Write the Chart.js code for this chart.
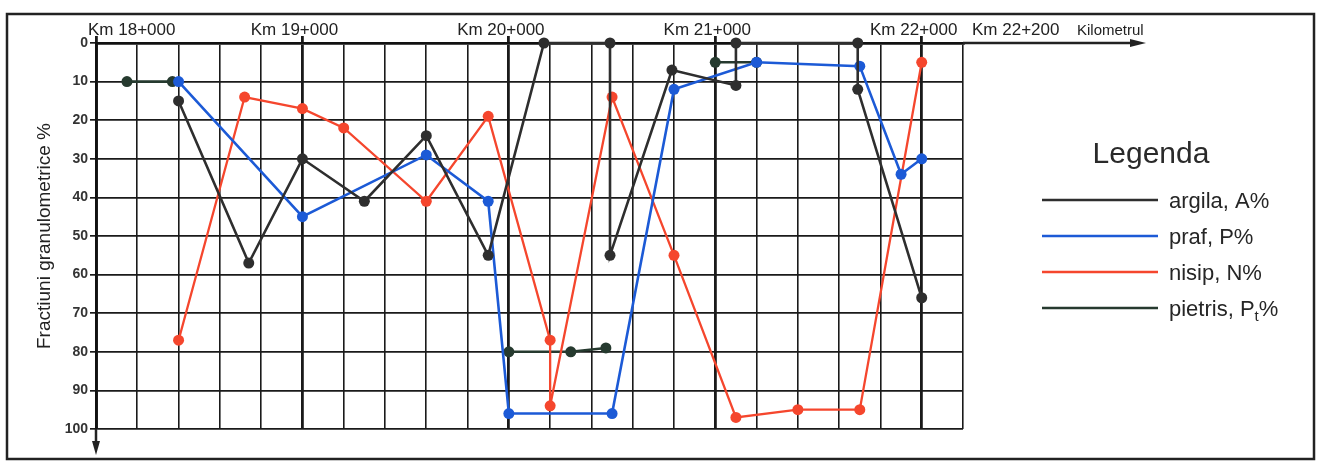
<!DOCTYPE html>
<html>
<head>
<meta charset="utf-8">
<script src="https://cdn.jsdelivr.net/npm/chart.js@4.4.1/dist/chart.umd.min.js"></script>
<style>
  html, body { margin: 0; padding: 0; background: #fff; }
</style>
</head>
<body>
<canvas id="myChart" width="1324" height="472"></canvas>
<script>
// pozitii kilometrice (in metri) si fractiuni
var kmTicks = [18000, 19000, 20000, 21000, 22000, 22200];
var kmLabels = ['Km 18+000', 'Km 19+000', 'Km 20+000', 'Km 21+000', 'Km 22+000', 'Km 22+200'];

var argilaKm = [18400, 18740, 19000, 19300, 19600, 19900, 20170, 20490, 20490, 20790, 21100, 21100, 21690, 21690, 22000];
var argilaVal = [15, 57, 30, 41, 24, 55, 0, 0, 55, 7, 11, 0, 0, 12, 66];

var prafKm = [18400, 19000, 19600, 19900, 20000, 20500, 20800, 21200, 21700, 21900, 22000];
var prafVal = [10, 45, 29, 41, 96, 96, 12, 5, 6, 34, 30];

var nisipKm = [18400, 18720, 19000, 19200, 19600, 19900, 20200, 20200, 20500, 20800, 21100, 21400, 21700, 22000];
var nisipVal = [77, 14, 17, 22, 41, 19, 77, 94, 14, 55, 97, 95, 95, 5];

// null = intrerupere de linie
var pietrisKm = [18150, 18370, 18500, 20000, 20300, 20470, 20700, 21000, 21200];
var pietrisVal = [10, 10, null, 80, 80, 79, null, 5, 5];

var FONT = '"Liberation Sans", Arial, sans-serif';
var INK = '#1a1a1a';

function pts(xs, ys) {
  return xs.map(function (x, i) { return { x: x, y: ys[i] }; });
}

function serie(label, legendText, xs, ys, color, width) {
  return {
    label: label,
    legendText: legendText,
    data: pts(xs, ys),
    showLine: true,
    borderColor: color,
    backgroundColor: color,
    borderWidth: width,
    pointRadius: 5.5,
    pointHoverRadius: 5.5,
    pointBorderWidth: 0,
    clip: false,
    spanGaps: false
  };
}

// rama, sageti, etichete km, legenda
var decor = {
  id: 'decor',
  afterDraw: function (chart) {
    var ctx = chart.ctx, a = chart.chartArea, xs = chart.scales.x;
    ctx.save();
    ctx.strokeStyle = '#222';
    ctx.fillStyle = '#222';
    ctx.lineWidth = 2.5;
    ctx.strokeRect(7, 14, 1307, 445);

    // axa kilometrajului continua spre dreapta
    ctx.beginPath(); ctx.moveTo(a.right, a.top); ctx.lineTo(1136, a.top); ctx.stroke();
    ctx.beginPath(); ctx.moveTo(1146, a.top); ctx.lineTo(1130, a.top - 4); ctx.lineTo(1130, a.top + 4); ctx.closePath(); ctx.fill();
    // axa y continua in jos
    ctx.beginPath(); ctx.moveTo(a.left, a.bottom); ctx.lineTo(a.left, 446); ctx.stroke();
    ctx.beginPath(); ctx.moveTo(a.left, 455); ctx.lineTo(a.left - 4, 441); ctx.lineTo(a.left + 4, 441); ctx.closePath(); ctx.fill();

    ctx.font = '17px ' + FONT;
    ctx.textBaseline = 'alphabetic';
    kmTicks.forEach(function (km, i) {
      var px = xs.getPixelForValue(km);
      if (i === 0) { ctx.textAlign = 'left'; ctx.fillText(kmLabels[i], px - 8, a.top - 8); }
      else if (i === kmTicks.length - 1) { ctx.textAlign = 'left'; ctx.fillText(kmLabels[i], px + 9, a.top - 8); }
      else { ctx.textAlign = 'center'; ctx.fillText(kmLabels[i], px - 8, a.top - 8); }
    });
    ctx.textAlign = 'left';
    ctx.font = '15px ' + FONT;
    ctx.fillText('Kilometrul', 1077, a.top - 8);

    // legenda
    ctx.font = '30px ' + FONT;
    ctx.textAlign = 'center';
    ctx.fillStyle = '#2a2a2a';
    ctx.fillText('Legenda', 1151, 163);
    ctx.textAlign = 'left';
    chart.data.datasets.forEach(function (d, i) {
      var y = 200 + i * 36;
      ctx.strokeStyle = d.borderColor;
      ctx.lineWidth = 2.5;
      ctx.beginPath(); ctx.moveTo(1042, y); ctx.lineTo(1158, y); ctx.stroke();
      ctx.fillStyle = '#262626';
      var parts = d.legendText.split('_');
      var x = 1169;
      ctx.font = '22px ' + FONT;
      ctx.fillText(parts[0], x, y + 8);
      if (parts.length > 1) {
        x += ctx.measureText(parts[0]).width;
        ctx.font = '15px ' + FONT;
        ctx.fillText(parts[1].charAt(0), x, y + 13);
        x += ctx.measureText(parts[1].charAt(0)).width;
        ctx.font = '22px ' + FONT;
        ctx.fillText(parts[1].slice(1), x, y + 8);
      }
    });
    ctx.restore();
  }
};

var chart = new Chart(document.getElementById('myChart'), {
  type: 'scatter',
  data: {
    datasets: [
      serie('argila, A%', 'argila, A%', argilaKm, argilaVal, '#2e2e2e', 2.6),
      serie('praf, P%', 'praf, P%', prafKm, prafVal, '#1c5ad6', 2.6),
      serie('nisip, N%', 'nisip, N%', nisipKm, nisipVal, '#f5462d', 2.3),
      serie('pietris, Pt%', 'pietris, P_t%', pietrisKm, pietrisVal, '#263a2f', 2.6)
    ]
  },
  options: {
    responsive: false,
    animation: false,
    layout: { padding: { left: 0, top: 0, right: 361, bottom: 43 } },
    plugins: {
      legend: { display: false },
      tooltip: { enabled: false }
    },
    scales: {
      x: {
        type: 'linear',
        position: 'top',
        min: 18000,
        max: 22200,
        afterFit: function (s) { s.height = 43; },
        ticks: { display: false, stepSize: 200, autoSkip: false, maxTicksLimit: 100 },
        grid: {
          color: INK,
          lineWidth: function (c) { return c.tick && c.tick.value % 1000 === 0 ? 2.8 : 1.6; },
          tickLength: 7,
          tickWidth: 2.8,
          tickColor: function (c) { return c.tick && c.tick.value % 1000 === 0 ? INK : 'rgba(0,0,0,0)'; }
        },
        border: { display: true, color: '#111', width: 2.8 }
      },
      y: {
        min: 0,
        max: 100,
        reverse: true,
        afterFit: function (s) { s.width = 96; },
        ticks: { stepSize: 10, padding: 2, color: '#333', font: { family: FONT, size: 14, weight: 'bold' } },
        grid: { color: INK, lineWidth: 1.7, tickLength: 6 },
        border: { color: '#111', width: 2.8 },
        title: {
          display: true,
          text: 'Fractiuni granulometrice %',
          color: '#222',
          font: { family: FONT, size: 19 },
          padding: { top: 33, bottom: 0 }
        }
      }
    }
  },
  plugins: [decor]
});
</script>
</body>
</html>
